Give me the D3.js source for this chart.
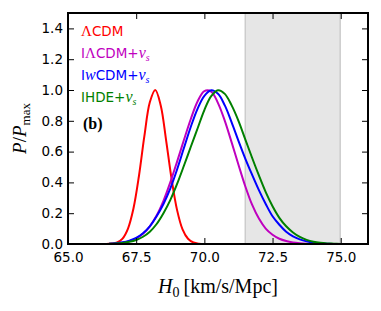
<!DOCTYPE html>
<html>
<head>
<meta charset="utf-8">
<script src="https://cdn.jsdelivr.net/npm/d3@7"></script>
<style>
  body { margin: 0; background: #fff; }
  svg { display: block; }
  .tick text { font-family: "DejaVu Sans", sans-serif; font-size: 13.5px; fill: #000; }
  .tick line { stroke: #000; stroke-width: 1; }
  .domain { display: none; }
</style>
</head>
<body>
<div id="chart"><svg class="diagram"></svg></div>
<script>

// H0 posterior curves
var h0Fine = [66.4, 66.6, 66.8, 67.0, 67.2, 67.4, 67.6, 67.8, 68.0, 68.2, 68.4, 68.6, 68.8, 69.0, 69.2, 69.4, 69.6, 69.8, 70.0];
var pLCDM = [0, 0.003, 0.01, 0.035, 0.10, 0.23, 0.44, 0.70, 0.92, 1.0, 0.90, 0.67, 0.42, 0.22, 0.095, 0.034, 0.01, 0.002, 0];

var h0 = [66.5, 66.75, 67.0, 67.25, 67.5, 67.75, 68.0, 68.25, 68.5, 68.75, 69.0, 69.25, 69.5, 69.75, 70.0, 70.25,
          70.5, 70.75, 71.0, 71.25, 71.5, 71.75, 72.0, 72.25, 72.5, 72.75, 73.0, 73.25, 73.5, 73.75, 74.0, 74.25,
          74.5, 74.75, 75.0];
var pILCDM = [0, 0.003, 0.008, 0.018, 0.036, 0.066, 0.115, 0.185, 0.28, 0.40, 0.535, 0.675, 0.81, 0.925, 0.993, 0.99,
              0.915, 0.80, 0.66, 0.515, 0.375, 0.255, 0.165, 0.10, 0.06, 0.034, 0.019, 0.01, 0.005, 0.002, 0, 0,
              0, 0, 0];
var pIwCDM = [0.002, 0.005, 0.011, 0.022, 0.04, 0.07, 0.115, 0.18, 0.26, 0.36, 0.484, 0.623, 0.76, 0.878, 0.962, 0.998,
              0.975, 0.90, 0.79, 0.67, 0.555, 0.45, 0.35, 0.26, 0.18, 0.125, 0.08, 0.05, 0.03, 0.017, 0.009, 0.004,
              0.002, 0, 0];
var pIHDE = [0.001, 0.003, 0.007, 0.014, 0.026, 0.047, 0.08, 0.13, 0.20, 0.285, 0.39, 0.508, 0.63, 0.75, 0.87, 0.96,
             0.999, 0.975, 0.90, 0.80, 0.68, 0.56, 0.445, 0.337, 0.245, 0.17, 0.115, 0.075, 0.046, 0.027, 0.015, 0.008,
             0.004, 0.002, 0];

var localH0 = [71.50, 74.98];

var xTicks = [65.0, 67.5, 70.0, 72.5, 75.0];
var yTicks = [0.0, 0.2, 0.4, 0.6, 0.8, 1.0, 1.2, 1.4];

var seriesNames = ["LCDM", "ILCDM", "IwCDM", "IHDE"];
var seriesColors = ["#ff0000", "#bf00bf", "#0000ff", "#008000"];

/***********************************************************************************************************/

function drawChart(mydiv) {
    var div = d3.select('#' + mydiv);
    var svg = div.select("svg");
    var width = 381, height = 311;
    svg.attr("width", width).attr("height", height);
    svg.margin = {top: 13, right: 13, bottom: 67, left: 68};

    var x = d3.scaleLinear().domain([65, 76]).range([svg.margin.left, width - svg.margin.right]);
    var y = d3.scaleLinear().domain([0, 1.5]).range([height - svg.margin.bottom, svg.margin.top]);

    // local measurement band
    svg.append("rect")
        .attr("x", x(localH0[0])).attr("y", y(1.5))
        .attr("width", x(localH0[1]) - x(localH0[0]))
        .attr("height", y(0) - y(1.5))
        .style("fill", "#e6e6e6");
    localH0.forEach(function(v){
        svg.append("line")
            .attr("x1", x(v)).attr("x2", x(v))
            .attr("y1", y(0)).attr("y2", y(1.5))
            .style("stroke", "#cccccc").style("stroke-width", 1.5);
    });

    var line = d3.line().curve(d3.curveCatmullRom.alpha(0.5))
        .x(function(d){ return x(d[0]); })
        .y(function(d){ return y(d[1]); });

    var curves = [d3.zip(h0Fine, pLCDM), d3.zip(h0, pILCDM), d3.zip(h0, pIwCDM), d3.zip(h0, pIHDE)];
    curves.forEach(function(c, i){
        svg.append("path").datum(c)
            .attr("d", line)
            .style("fill", "none")
            .style("stroke", seriesColors[i])
            .style("stroke-width", 2);
    });

    // axes, ticks inside on all four sides
    svg.append("g").attr("transform", "translate(0," + y(0) + ")")
        .call(d3.axisBottom(x).tickValues(xTicks).tickFormat(d3.format(".1f")).tickSizeInner(-6).tickSizeOuter(0).tickPadding(8));
    svg.append("g").attr("transform", "translate(0," + y(1.5) + ")")
        .call(d3.axisTop(x).tickValues(xTicks).tickFormat("").tickSizeInner(-6).tickSizeOuter(0));
    svg.append("g").attr("transform", "translate(" + x(65) + ",0)")
        .call(d3.axisLeft(y).tickValues(yTicks).tickFormat(d3.format(".1f")).tickSizeInner(-6).tickSizeOuter(0).tickPadding(5));
    svg.append("g").attr("transform", "translate(" + x(76) + ",0)")
        .call(d3.axisRight(y).tickValues(yTicks).tickFormat("").tickSizeInner(-6).tickSizeOuter(0));

    svg.append("rect")
        .attr("x", x(65)).attr("y", y(1.5))
        .attr("width", x(76) - x(65)).attr("height", y(0) - y(1.5))
        .style("fill", "none").style("stroke", "#000").style("stroke-width", 2);

    // legend labels
    var legendParts = [
        [["\u039B", "serif"], ["CDM", "sans"]],
        [["I", "sans"], ["\u039B", "serif"], ["CDM+", "sans"], ["\u03BD", "ital"], ["s", "sub"]],
        [["I", "sans"], ["w", "ital"], ["CDM+", "sans"], ["\u03BD", "ital"], ["s", "sub"]],
        [["IHDE+", "sans"], ["\u03BD", "ital"], ["s", "sub"]]
    ];
    legendParts.forEach(function(parts, i){
        var t = svg.append("text")
            .attr("x", 81).attr("y", 36 + i * 22)
            .style("fill", seriesColors[i]).style("font-size", "13.5px");
        parts.forEach(function(p){
            var s = t.append("tspan").text(p[0]);
            if(p[1] === "sans"){
                s.style("font-family", "'DejaVu Sans', sans-serif");
            } else if(p[1] === "serif"){
                s.style("font-family", "'Liberation Serif', serif").style("font-size", "15px");
            } else if(p[1] === "ital"){
                s.style("font-family", "'Liberation Serif', serif").style("font-style", "italic").style("font-size", "16px");
            } else {
                s.style("font-family", "'Liberation Serif', serif").style("font-style", "italic")
                    .style("font-size", "10px").attr("dy", 3);
            }
        });
    });

    svg.append("text")
        .attr("x", 83).attr("y", 129)
        .style("font-family", "'Liberation Serif', serif")
        .style("font-weight", "bold").style("font-size", "16px")
        .text("(b)");

    // axis titles
    var xt = svg.append("text")
        .attr("x", (x(65) + x(76)) / 2).attr("y", 293)
        .attr("text-anchor", "middle")
        .style("font-family", "'Liberation Serif', serif").style("font-size", "20px");
    xt.append("tspan").text("H").style("font-style", "italic");
    xt.append("tspan").text("0").style("font-size", "14px").attr("dy", 4);
    xt.append("tspan").text("\u2009[km/s/Mpc]").attr("dy", -4);

    var yt = svg.append("text")
        .attr("transform", "translate(26," + ((y(0) + y(1.5)) / 2) + ") rotate(-90)")
        .attr("text-anchor", "middle")
        .style("font-family", "'Liberation Serif', serif").style("font-size", "19px");
    yt.append("tspan").text("P").style("font-style", "italic");
    yt.append("tspan").text("/");
    yt.append("tspan").text("P").style("font-style", "italic");
    yt.append("tspan").text("max").style("font-size", "13px").attr("dy", 4);
}

drawChart("chart");

</script>
</body>
</html>
